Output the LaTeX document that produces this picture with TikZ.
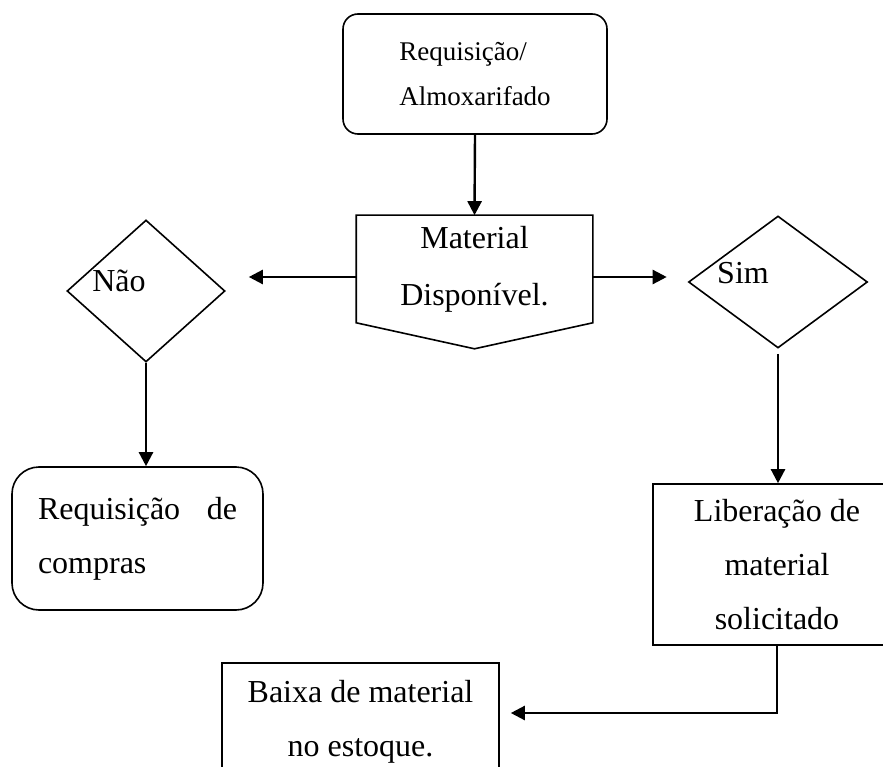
\documentclass[tikz,border=0pt]{standalone}
\usepackage{fontspec}
\setmainfont{Liberation Serif}
\usepackage{tikz}
\usetikzlibrary{shapes.geometric,arrows.meta,calc}
\tikzset{
    box/.style={draw, line width=1.6pt, align=center, font=\fontsize{32}{54}\selectfont},
    roundbox/.style={box, rounded corners=15pt},
    decision/.style={diamond, draw, line width=1.6pt, inner sep=0pt},
    txt/.style={font=\fontsize{32}{40}\selectfont},
    arrow/.style={-{Triangle[length=14pt,width=14pt]}, line width=2.4pt},
    link/.style={line width=2.4pt}
}
\begin{document}
\begin{tikzpicture}[x=1pt, y=1pt]
    \useasboundingbox (0,0) rectangle (883,-767);
    \clip (0,0) rectangle (883,-767);
    % Top: request to stock room
    \node[roundbox, minimum width=264, minimum height=120, align=left, font=\fontsize{27}{45}\selectfont] (req) at (475,-74) {Requisição/\\Almoxarifado};

    % Material available (off-page shape)
    \node[box, draw=none, minimum width=235, minimum height=106, font=\fontsize{32}{57}\selectfont] (disp) at (474.5,-269) {Material\\Disponível.};
    \draw[line width=1.6pt] (disp.north west) -- (disp.north east) -- (disp.south east)
        -- ($(disp.south)+(0,-26)$) -- (disp.south west) -- cycle;

    % Arrow down
    \draw[arrow] (req.south) -- (disp.north);

    % Decisions
    \node[decision, minimum width=158, minimum height=142] (nao) at (146,-291) {};
    \node[txt] (naotxt) at (119,-281) {Não};
    \node[decision, minimum width=179, minimum height=132] (sim) at (778,-282) {};
    \node[txt] (simtxt) at (743,-273) {Sim};

    \draw[arrow, shorten >=23pt] ([yshift=-8pt]disp.west) -- ([yshift=-8pt]disp.west -| nao.east);
    \draw[arrow, shorten >=21pt] ([yshift=-8pt]disp.east) -- ([yshift=-8pt]disp.east -| sim.west);

    % Left branch: purchase request
    \node[roundbox, rounded corners=27pt, text width=199pt, inner xsep=26pt, minimum height=143, align=left] (compras) at (137.5,-538.5) {Requisição\hfill de\\compras};
    \draw[arrow] (nao.south) -- (nao.south |- compras.north);

    % Right branch: material released
    \node[box, minimum width=248, minimum height=161] (lib) at (777,-564.5) {Liberação de\\material\\solicitado};
    \draw[arrow, shorten <=5pt] (sim.south) -- (sim.south |- lib.north);

    % Stock write-off
    \node[box, minimum width=277, minimum height=118] (baixa) at (360.5,-722) {Baixa de material\\no estoque.};
    \draw[arrow] (lib.south) |- ([xshift=11pt, yshift=9pt]baixa.east);
\end{tikzpicture}
\end{document}
